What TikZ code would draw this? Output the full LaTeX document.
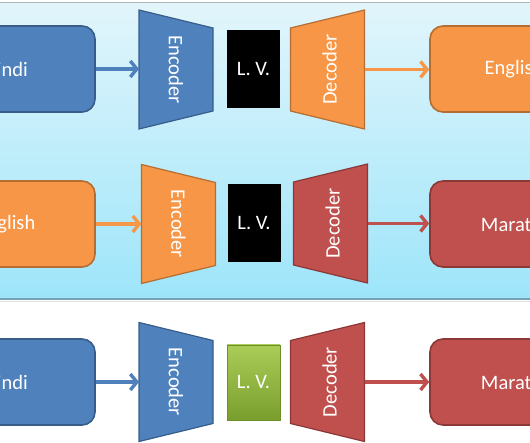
\documentclass[tikz,border=0pt]{standalone}
\usepackage{fontspec}
\setmainfont{Carlito}
\usetikzlibrary{arrows.meta}
\definecolor{cblue}{HTML}{4F81BD}
\definecolor{cblueD}{HTML}{385D8A}
\definecolor{corange}{HTML}{F79646}
\definecolor{corangeD}{HTML}{B66D31}
\definecolor{cred}{HTML}{C0504D}
\definecolor{credD}{HTML}{8C3836}
\definecolor{bgtop}{HTML}{E2F5FB}
\definecolor{bgbot}{HTML}{9DE5FA}
\definecolor{gtop}{HTML}{AACD58}
\definecolor{gbot}{HTML}{7A9E2D}
\definecolor{gline}{HTML}{6E8F2A}
\tikzset{
  txt/.style={text=white, font=\fontsize{20.5}{24}\selectfont, inner sep=0pt},
  lang/.style={txt, rounded corners=13pt, line width=1.6pt, minimum width=168pt, minimum height=86pt},
  leftlang/.style={lang, minimum width=178pt},
  trapbox/.style={minimum width=74pt, minimum height=119pt, inner sep=0pt, outer sep=0pt},
  lvbox/.style={txt, minimum width=53pt, minimum height=78pt},
  conn/.style={line width=3.4pt, -{Straight Barb[length=6.5pt,width=16pt]}},
}
\newcommand\EncShape[5]{%
  \node[trapbox] (#1) at (#2,#3) {};
  \draw[fill=#4, draw=#5, line width=1.2pt] (#1.north west) -- ([yshift=-18pt]#1.north east)
    -- ([yshift=18pt]#1.south east) -- (#1.south west) -- cycle;
  \node[txt, rotate=-90] (#1t) at (#1.center) {Encoder};
}
\newcommand\DecShape[5]{%
  \node[trapbox] (#1) at (#2,#3) {};
  \draw[fill=#4, draw=#5, line width=1.2pt] ([yshift=-18pt]#1.north west) -- (#1.north east)
    -- (#1.south east) -- ([yshift=18pt]#1.south west) -- cycle;
  \node[txt, rotate=90] (#1t) at ([xshift=2pt]#1.center) {Decoder};
}
\begin{document}
\begin{tikzpicture}[x=1pt,y=-1pt]
\useasboundingbox (0,0) rectangle (530,443);
\clip (0,0) rectangle (530,443);
\fill[white] (0,0) rectangle (530,443);
\shade[top color=bgtop, bottom color=bgbot] (0,3) rectangle (530,300);
\draw[line width=1.5pt, color=black!25!bgtop] (0,2.5) -- (530,2.5);
\draw[line width=2pt, color={rgb,255:red,122;green,160;blue,182}] (0,299.5) -- (530,299.5);
\draw[line width=1pt, color=black!12] (0,302) -- (530,302);

% Row 1
\node[leftlang, fill=cblue, draw=cblueD] (hin1) at (6,69) {Hindi};
\EncShape{enc1}{176}{69.5}{cblue}{cblueD}
\node[lvbox, fill=black] (lv1) at (253.5,69) {L. V.};
\DecShape{dec1}{327.5}{69.5}{corange}{corangeD}
\node[lang, fill=corange, draw=corangeD] (eng1) at (514,69) {English};
\draw[conn, cblue] (hin1.east) -- (hin1.east -| enc1.west);
\draw[conn, corange] (dec1.east) -- (dec1.east -| eng1.west);

% Row 2
\node[leftlang, fill=corange, draw=corangeD] (eng2) at (6,224) {English};
\EncShape{enc2}{178.5}{224}{corange}{corangeD}
\node[lvbox, fill=black] (lv2) at (254,223) {L. V.};
\DecShape{dec2}{330.5}{223.5}{cred}{credD}
\node[lang, fill=cred, draw=credD] (mar2) at (514,224) {Marathi};
\draw[conn, corange] (eng2.east) -- (eng2.east -| enc2.west);
\draw[conn, cred] (dec2.east) -- (dec2.east -| mar2.west);

% Row 3
\node[leftlang, fill=cblue, draw=cblueD] (hin3) at (6,382) {Hindi};
\EncShape{enc3}{176}{382}{cblue}{cblueD}
\node[lvbox, top color=gtop, bottom color=gbot, draw=gline, line width=0.6pt, minimum height=75pt] (lv3) at (253.5,382.5) {L. V.};
\DecShape{dec3}{327.5}{382}{cred}{credD}
\node[lang, fill=cred, draw=credD] (mar3) at (514,382) {Marathi};
\draw[conn, cblue] (hin3.east) -- (hin3.east -| enc3.west);
\draw[conn, cred] (dec3.east) -- (dec3.east -| mar3.west);
\end{tikzpicture}
\end{document}
